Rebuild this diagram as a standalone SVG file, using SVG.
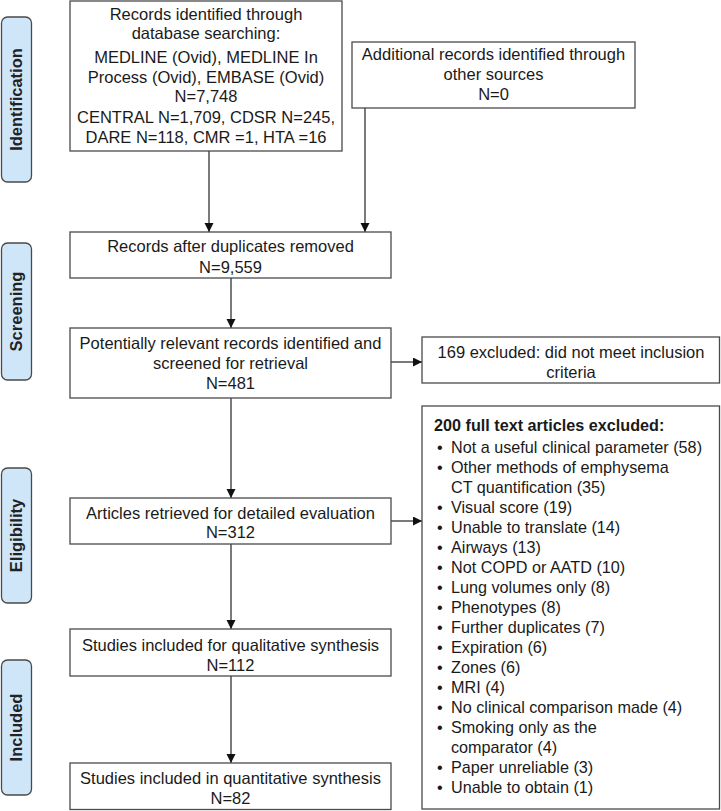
<svg xmlns="http://www.w3.org/2000/svg" width="721" height="811" viewBox="0 0 721 811">
<style>
.bg{fill:#ffffff}
.box{fill:#ffffff;stroke:#4a4a4a;stroke-width:1.3}
.phase{fill:#cfe6f8;stroke:#4a4a4a;stroke-width:1.3}
.t{font-family:"Liberation Sans",Arial,sans-serif;font-size:16.5px;fill:#1a1a1a;text-anchor:middle}
.tl{font-family:"Liberation Sans",Arial,sans-serif;font-size:16.2px;fill:#1a1a1a}
.hb{font-weight:bold}
.pl{font-family:"Liberation Sans",Arial,sans-serif;font-size:16.5px;font-weight:bold;fill:#222;text-anchor:middle}
.c{stroke:#333;stroke-width:1.3;fill:none;marker-end:url(#ah)}
</style>
<defs>
<marker id="ah" markerUnits="userSpaceOnUse" markerWidth="10" markerHeight="10" refX="9" refY="4.5" orient="auto">
<path d="M0,0 L9,4.5 L0,9 Z" fill="#111"/>
</marker>
</defs>
<rect class="bg" x="0" y="0" width="721" height="811"/>

<g id="phase-identification">
<rect class="phase" x="1.5" y="17" width="30" height="165" rx="6"/>
<text class="pl" transform="translate(22,99.5) rotate(-90)">Identification</text>
</g>
<g id="phase-screening">
<rect class="phase" x="1.5" y="243" width="30" height="137" rx="6"/>
<text class="pl" transform="translate(22,311.5) rotate(-90)">Screening</text>
</g>
<g id="phase-eligibility">
<rect class="phase" x="1.5" y="468" width="30" height="135" rx="6"/>
<text class="pl" transform="translate(22,535.5) rotate(-90)">Eligibility</text>
</g>
<g id="phase-included">
<rect class="phase" x="1.5" y="660" width="30" height="135" rx="6"/>
<text class="pl" transform="translate(22,727.5) rotate(-90)">Included</text>
</g>

<g id="connectors">
<line class="c" x1="209" y1="151" x2="209" y2="232"/>
<line class="c" x1="365" y1="108" x2="365" y2="232"/>
<line class="c" x1="231" y1="278" x2="231" y2="328"/>
<line class="c" x1="231" y1="398" x2="231" y2="498"/>
<line class="c" x1="231" y1="544" x2="231" y2="629"/>
<line class="c" x1="231" y1="676" x2="231" y2="763"/>
<line class="c" x1="391" y1="362" x2="422" y2="362"/>
<line class="c" x1="391" y1="521" x2="422" y2="521"/>
</g>

<g id="node-database">
<rect class="box" x="70" y="1" width="272" height="150"/>
<text class="t" x="206" y="20">Records identified through</text>
<text class="t" x="206" y="39">database searching:</text>
<text class="t" x="206" y="63">MEDLINE (Ovid), MEDLINE In</text>
<text class="t" x="206" y="83">Process (Ovid), EMBASE (Ovid)</text>
<text class="t" x="206" y="102">N=7,748</text>
<text class="t" x="206" y="123">CENTRAL N=1,709, CDSR N=245,</text>
<text class="t" x="206" y="143">DARE N=118, CMR =1, HTA =16</text>
</g>

<g id="node-additional">
<rect class="box" x="352" y="42" width="283" height="66"/>
<text class="t" x="493.5" y="60">Additional records identified through</text>
<text class="t" x="493.5" y="80">other sources</text>
<text class="t" x="493.5" y="100">N=0</text>
</g>

<g id="node-duplicates">
<rect class="box" x="70" y="232" width="321" height="46"/>
<text class="t" x="230.5" y="252">Records after duplicates removed</text>
<text class="t" x="230.5" y="273">N=9,559</text>
</g>

<g id="node-screened">
<rect class="box" x="70" y="328" width="321" height="70"/>
<text class="t" x="230.5" y="349">Potentially relevant records identified and</text>
<text class="t" x="230.5" y="369">screened for retrieval</text>
<text class="t" x="230.5" y="389">N=481</text>
</g>

<g id="node-excluded169">
<rect class="box" x="422" y="337" width="297.5" height="46"/>
<text class="t" x="571" y="358">169 excluded: did not meet inclusion</text>
<text class="t" x="571" y="378">criteria</text>
</g>

<g id="node-excluded200">
<rect class="box" x="422" y="406" width="297.5" height="403"/>
<text class="tl hb" x="434" y="431">200 full text articles excluded:</text>
<g class="tl">
<text x="437" y="453">•</text><text x="451" y="453">Not a useful clinical parameter (58)</text>
<text x="437" y="473">•</text><text x="451" y="473">Other methods of emphysema</text>
<text x="451" y="493">CT quantification (35)</text>
<text x="437" y="513">•</text><text x="451" y="513">Visual score (19)</text>
<text x="437" y="533">•</text><text x="451" y="533">Unable to translate (14)</text>
<text x="437" y="553">•</text><text x="451" y="553">Airways (13)</text>
<text x="437" y="573">•</text><text x="451" y="573">Not COPD or AATD (10)</text>
<text x="437" y="593">•</text><text x="451" y="593">Lung volumes only (8)</text>
<text x="437" y="613">•</text><text x="451" y="613">Phenotypes (8)</text>
<text x="437" y="633">•</text><text x="451" y="633">Further duplicates (7)</text>
<text x="437" y="653">•</text><text x="451" y="653">Expiration (6)</text>
<text x="437" y="673">•</text><text x="451" y="673">Zones (6)</text>
<text x="437" y="693">•</text><text x="451" y="693">MRI (4)</text>
<text x="437" y="713">•</text><text x="451" y="713">No clinical comparison made (4)</text>
<text x="437" y="733">•</text><text x="451" y="733">Smoking only as the</text>
<text x="451" y="753">comparator (4)</text>
<text x="437" y="773">•</text><text x="451" y="773">Paper unreliable (3)</text>
<text x="437" y="793">•</text><text x="451" y="793">Unable to obtain (1)</text>
</g>
</g>

<g id="node-retrieved">
<rect class="box" x="70" y="498" width="321" height="46"/>
<text class="t" x="230.5" y="519">Articles retrieved for detailed evaluation</text>
<text class="t" x="230.5" y="538">N=312</text>
</g>

<g id="node-qualitative">
<rect class="box" x="70" y="629" width="321" height="47"/>
<text class="t" x="230.5" y="651">Studies included for qualitative synthesis</text>
<text class="t" x="230.5" y="671">N=112</text>
</g>

<g id="node-quantitative">
<rect class="box" x="70" y="763" width="321" height="46.5"/>
<text class="t" x="230.5" y="784">Studies included in quantitative synthesis</text>
<text class="t" x="230.5" y="804">N=82</text>
</g>
</svg>
